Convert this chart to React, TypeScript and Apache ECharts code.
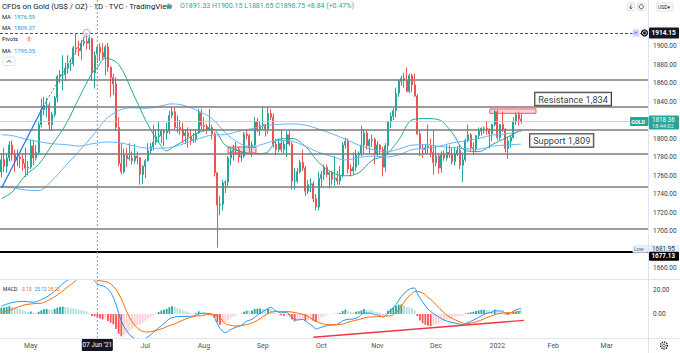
import React, { useEffect, useRef } from "react";
import * as echarts from "echarts";

const START_DATE = "2021-04-16";
const CATEGORY_COUNT = 243;
const FONT = "Roboto, 'Noto Sans', 'DejaVu Sans', sans-serif";

// daily candles: [open, high, low, close]
const ohlcApr2021 = [
  [1764, 1784, 1758, 1777], [1777, 1790, 1764, 1770], [1770, 1783, 1763, 1779], [1779, 1797, 1775, 1793],
  [1793, 1798, 1776, 1783], [1783, 1788, 1764, 1777], [1777, 1788, 1770, 1780], [1780, 1782, 1768, 1778],
  [1778, 1784, 1765, 1773], [1773, 1790, 1758, 1768], [1768, 1776, 1760, 1769],
];
const ohlcMay2021 = [
  [1769, 1799, 1767, 1792], [1792, 1798, 1771, 1779], [1779, 1793, 1776, 1785], [1785, 1818, 1782, 1815],
  [1815, 1843, 1812, 1831], [1831, 1845, 1825, 1836], [1836, 1844, 1823, 1836], [1836, 1839, 1809, 1815],
  [1815, 1829, 1808, 1826], [1826, 1846, 1823, 1844], [1844, 1869, 1839, 1867], [1867, 1874, 1860, 1869],
  [1869, 1890, 1852, 1869], [1869, 1882, 1862, 1876], [1876, 1890, 1870, 1881], [1881, 1886, 1873, 1881],
  [1881, 1900, 1878, 1898], [1898, 1913, 1891, 1897], [1897, 1906, 1889, 1895], [1895, 1906, 1885, 1903],
  [1903, 1909, 1900, 1905],
];
const ohlcJun2021 = [
  [1905, 1914.15, 1896, 1903], [1903, 1911, 1896, 1908], [1908, 1909, 1863, 1871], [1871, 1894, 1854, 1889.91],
  [1891.33, 1900.15, 1881.65, 1898.75], [1898.75, 1903, 1884, 1893], [1893, 1903, 1885, 1888], [1888, 1901, 1868, 1899],
  [1899, 1903, 1872, 1877], [1877, 1878, 1845, 1866], [1866, 1870, 1847, 1859], [1859, 1866, 1808, 1812],
  [1812, 1823, 1770, 1773], [1773, 1795, 1761, 1764], [1764, 1789, 1762, 1782], [1782, 1790, 1769, 1778],
  [1778, 1795, 1776, 1779], [1779, 1786, 1772, 1776], [1776, 1794, 1773, 1781], [1781, 1786, 1772, 1779],
  [1779, 1780, 1750, 1761], [1761, 1771, 1751, 1770],
];
const ohlcJul2021 = [
  [1770, 1778, 1757, 1776], [1776, 1795, 1775, 1787], [1787, 1795, 1783, 1791], [1791, 1815, 1787, 1796],
  [1796, 1809, 1793, 1802], [1802, 1818, 1795, 1803], [1803, 1810, 1795, 1808], [1808, 1809, 1792, 1806],
  [1806, 1817, 1799, 1808], [1808, 1830, 1805, 1825], [1825, 1834, 1822, 1829], [1829, 1833, 1810, 1812],
  [1812, 1825, 1806, 1812], [1812, 1820, 1804, 1810], [1810, 1817, 1795, 1803], [1803, 1810, 1794, 1806],
  [1806, 1812, 1790, 1802], [1802, 1810, 1793, 1798], [1798, 1806, 1795, 1799], [1799, 1810, 1796, 1806],
  [1806, 1832, 1805, 1828], [1828, 1832, 1810, 1814],
];
const ohlcAug2021 = [
  [1814, 1823, 1807, 1813], [1813, 1816, 1805, 1810], [1810, 1832, 1808, 1812], [1812, 1815, 1799, 1805],
  [1805, 1807, 1759, 1763], [1763, 1763, 1681.95, 1728], [1728, 1738, 1717, 1729], [1729, 1755, 1722, 1752],
  [1752, 1755, 1741, 1753], [1753, 1781, 1748, 1779], [1779, 1789, 1771, 1786], [1786, 1793, 1776, 1787],
  [1787, 1796, 1782, 1788], [1788, 1791, 1774, 1780], [1780, 1786, 1775, 1781], [1781, 1807, 1779, 1805],
  [1805, 1809, 1799, 1803], [1803, 1805, 1785, 1790], [1790, 1797, 1780, 1793], [1793, 1823, 1790, 1818],
  [1818, 1822, 1807, 1810], [1810, 1819, 1803, 1814],
];
const ohlcSep2021 = [
  [1814, 1834, 1809, 1815], [1815, 1816, 1802, 1810], [1810, 1834, 1805, 1827], [1827, 1832, 1820, 1823],
  [1823, 1827, 1790, 1794], [1794, 1800, 1782, 1788], [1788, 1800, 1785, 1795], [1795, 1809, 1785, 1788],
  [1788, 1798, 1784, 1794], [1794, 1808, 1780, 1804], [1804, 1808, 1792, 1794], [1794, 1796, 1745, 1754],
  [1754, 1768, 1745, 1754], [1754, 1768, 1752, 1764], [1764, 1777, 1762, 1774], [1774, 1788, 1765, 1768],
  [1768, 1770, 1738, 1743], [1743, 1755, 1740, 1750], [1750, 1757, 1742, 1751], [1751, 1754, 1731, 1735],
  [1735, 1740, 1722, 1726], [1726, 1764, 1722, 1757],
];
const ohlcOct2021 = [
  [1757, 1765, 1748, 1761], [1761, 1772, 1755, 1769], [1769, 1772, 1758, 1761], [1761, 1764, 1746, 1763],
  [1763, 1765, 1750, 1756], [1756, 1781, 1749, 1757], [1757, 1765, 1750, 1754], [1754, 1770, 1750, 1760],
  [1760, 1796, 1758, 1793], [1793, 1801, 1789, 1797], [1797, 1800, 1762, 1767], [1767, 1772, 1759, 1765],
  [1765, 1785, 1761, 1769], [1769, 1788, 1765, 1782], [1782, 1786, 1771, 1784], [1784, 1814, 1781, 1793],
  [1793, 1810, 1784, 1806], [1806, 1809, 1788, 1792], [1792, 1800, 1783, 1798], [1798, 1804, 1791, 1799],
  [1799, 1801, 1772, 1783],
];
const ohlcNov2021 = [
  [1783, 1797, 1780, 1793], [1793, 1794, 1782, 1788], [1788, 1791, 1759, 1769], [1769, 1795, 1764, 1792],
  [1792, 1819, 1782, 1818], [1818, 1828, 1811, 1824], [1824, 1833, 1820, 1830], [1830, 1855, 1823, 1849],
  [1849, 1864, 1845, 1862], [1862, 1868, 1857, 1865], [1865, 1871, 1855, 1863], [1863, 1877, 1850, 1851],
  [1851, 1870, 1849, 1868], [1868, 1870, 1850, 1858], [1858, 1870, 1845, 1846], [1846, 1848, 1804, 1805],
  [1805, 1809, 1781, 1789], [1789, 1794, 1779, 1788], [1788, 1794, 1783, 1790], [1790, 1815, 1784, 1792],
  [1792, 1800, 1780, 1785], [1785, 1809, 1761, 1774],
];
const ohlcDec2021 = [
  [1774, 1792, 1770, 1781], [1781, 1783, 1762, 1768], [1768, 1786, 1763, 1783], [1783, 1787, 1776, 1779],
  [1779, 1793, 1776, 1785], [1785, 1793, 1779, 1783], [1783, 1790, 1772, 1775], [1775, 1791, 1771, 1783],
  [1783, 1792, 1781, 1787], [1787, 1793, 1767, 1771], [1771, 1785, 1753, 1777], [1777, 1800, 1775, 1798],
  [1798, 1815, 1796, 1804], [1804, 1806, 1786, 1790], [1790, 1796, 1782, 1789], [1789, 1804, 1785, 1803],
  [1803, 1812, 1800, 1808], [1808, 1812, 1803, 1811], [1811, 1813, 1805, 1811], [1811, 1819, 1804, 1810],
  [1810, 1811, 1789, 1805], [1805, 1816, 1797, 1815], [1815, 1831, 1813, 1829],
];
const ohlcJan2022 = [
  [1829, 1831, 1798, 1801], [1801, 1816, 1798, 1815], [1815, 1829, 1807, 1810], [1810, 1811, 1785, 1789],
  [1789, 1802, 1778, 1797], [1797, 1804, 1790, 1801], [1801, 1823, 1800, 1818], [1818, 1828, 1815, 1826],
  [1826, 1829, 1814, 1821], [1821, 1827, 1816, 1818.36],
];

// moving averages: [candle index, value]
const ma20 = [
  [0, 1735], [4, 1742], [9, 1760], [14, 1772], [19, 1793.1], [24, 1814.3], [29, 1843.1], [34, 1870.6],
  [36, 1876.59], [39, 1886.9], [44, 1880], [49, 1851.3], [54, 1820.2], [57, 1804.7], [59, 1795.6], [62, 1786.6],
  [64, 1790.1], [69, 1798.3], [74, 1806.6], [79, 1810.3], [84, 1792.8], [89, 1786.6], [94, 1783.6], [99, 1784.2],
  [104, 1799.3], [109, 1800], [114, 1791.6], [119, 1774.2], [124, 1763.3], [129, 1759.7], [134, 1762.9],
  [139, 1776.3], [144, 1782.1], [149, 1798.2], [154, 1820.1], [159, 1821.6], [164, 1820.3], [169, 1806.4],
  [174, 1787], [179, 1785.8], [184, 1793.4], [189, 1800.3], [194, 1807.7], [195, 1808.5],
];
const ma50 = [
  [0, 1749], [4, 1746.9], [9, 1744.3], [14, 1743.8], [19, 1754.6], [24, 1770.2], [29, 1785.8], [34, 1802.2],
  [36, 1809.37], [39, 1820.3], [44, 1830.2], [49, 1833.3], [54, 1832.6], [59, 1834.7], [64, 1837.4], [69, 1835.4],
  [74, 1829.5], [79, 1821.6], [84, 1806.3], [89, 1795.3], [94, 1791], [99, 1794.7], [104, 1797.9], [109, 1797],
  [114, 1791.6], [119, 1785.1], [124, 1780.6], [129, 1776.8], [134, 1779.6], [139, 1781], [144, 1780],
  [149, 1782.3], [154, 1787.9], [159, 1789.6], [164, 1791.5], [169, 1795.2], [174, 1797.4], [179, 1800],
  [184, 1803.7], [189, 1804.8], [194, 1807.5], [195, 1807.8],
];
const ma100 = [
  [0, 1804], [4, 1803.2], [9, 1799.5], [14, 1796.7], [19, 1794.3], [24, 1793.5], [29, 1791.8], [34, 1794.3],
  [36, 1795.05], [39, 1796.2], [44, 1795.5], [49, 1792.6], [54, 1789.7], [59, 1789.5], [64, 1790.6], [69, 1795],
  [74, 1799.8], [79, 1803.7], [84, 1804.2], [89, 1807.8], [94, 1810.6], [99, 1814], [104, 1815.3], [109, 1815.8],
  [114, 1814.5], [119, 1810.2], [124, 1805.1], [129, 1799.2], [134, 1792.9], [139, 1788.1], [144, 1785.5],
  [149, 1788.5], [154, 1792.9], [159, 1793.3], [164, 1791.5], [169, 1790.2], [174, 1789], [179, 1788.4],
  [184, 1791.7], [189, 1792.9], [194, 1793.8], [195, 1793.9],
];

// MACD histogram per candle
const histApr = [5.2, 5.4, 5.9, 6.6, 6.1, 5.4, 4.8, 4.0, 3.2, 2.4, 1.6];
const histMay = [2.0, 1.2, 0.8, 1.8, 3.0, 3.9, 4.3, 3.7, 3.6, 4.2, 5.2, 5.8, 6.2, 5.9, 5.5, 4.9, 4.6, 4.2, 3.6, 3.2, 2.7];
const histJun = [2.0, 1.0, -1.6, -1.9, -3.1, -3.8, -4.6, -4.5, -5.8, -7.2, -8.6, -12.4, -16.5, -18.6, -17.4, -16.0, -14.3, -12.6, -10.9, -9.4, -8.4, -7.0];
const histJul = [-5.6, -4.0, -2.6, -1.2, 0.3, 1.6, 2.8, 3.6, 4.3, 5.6, 6.4, 5.8, 5.0, 4.1, 3.1, 2.3, 1.5, 0.8, 0.4, 0.6, 2.2, 2.0];
const histAug = [1.6, 1.1, 0.8, 0.2, -3.2, -6.8, -8.9, -8.2, -7.4, -5.2, -3.6, -2.2, -1.0, -0.4, 0.2, 1.8, 2.8, 2.6, 2.9, 4.2, 4.4, 4.6];
const histSep = [4.4, 3.9, 4.3, 4.0, 2.0, 0.4, -0.4, -1.2, -1.4, -0.9, -1.3, -4.6, -6.2, -5.8, -4.6, -4.2, -5.8, -5.5, -5.0, -5.6, -6.4, -4.6];
const histOct = [-3.2, -1.8, -1.0, -0.4, -0.2, 0.2, 0.3, 0.8, 2.6, 3.6, 2.4, 1.6, 1.4, 1.9, 2.3, 3.0, 4.1, 3.5, 3.3, 3.0, 1.8];
const histNov = [1.6, 1.0, -0.6, 0.3, 2.8, 4.4, 5.4, 6.8, 7.8, 7.9, 7.3, 6.0, 5.6, 4.5, 2.9, -1.8, -5.4, -7.6, -9.0, -9.8, -10.2, -9.6];
const histDec = [-8.6, -8.0, -6.9, -6.0, -5.0, -4.1, -3.6, -2.8, -2.0, -1.9, -1.4, 0.3, 0.8, 1.4, 1.8, 2.6, 3.0, 3.5, 3.6, 3.5, 3.0, 2.9, 3.6];
const histJan = [2.6, 2.0, 1.6, -0.4, -0.9, -0.5, 1.2, 1.8, 2.1, 1.8];

const macdLine = [
  [0, 6.5], [4, 9.5], [8, 10.5], [12, 9.8], [15, 12], [18, 15.5], [21, 21], [24, 27], [27, 31], [30, 34.5],
  [33, 33], [36, 25.12], [39, 22.5], [41, 18], [43, 8], [45, -6], [47, -14], [49, -19], [51, -21], [53, -21.5],
  [55, -19], [57, -15.5], [59, -11.5], [61, -8], [63, -4], [65, -2.5], [67, -2], [69, -2], [71, -2], [73, -1],
  [75, 0.5], [77, 0.5], [79, -0.3], [81, -8], [82, -12], [84, -15.5], [86, -13], [88, -11], [90, -9.5], [92, -6],
  [94, -4.5], [96, -1], [98, 2], [100, 4.5], [101, 5.5], [103, 2.5], [105, 1], [107, 1.2], [109, -3], [111, -5],
  [113, -4.5], [115, -7.5], [117, -10.5], [118, -12.5], [120, -11], [122, -9.8], [124, -9.2], [126, -8.6],
  [128, -5.8], [130, -4.4], [132, -4.2], [134, -2.4], [136, 0.8], [138, 0.8], [140, -0.6], [142, -1], [143, -2.6],
  [144, -1.4], [146, 2.8], [148, 8], [150, 14.5], [152, 19], [154, 21.5], [155, 21.6], [156, 17], [158, 10],
  [160, 4], [161, 2], [162, 0.5], [164, -2.5], [166, -5], [168, -6.5], [170, -7.5], [172, -8.5], [173, -8.8],
  [174, -8], [176, -6.2], [178, -4], [180, -1.5], [182, 0.5], [184, 1.5], [185, 3], [186, 2.6], [188, 2.4],
  [189, 0.6], [190, 0.2], [191, 0.6], [192, 2.5], [194, 4.2], [195, 4.4],
];
const signalLine = [
  [0, 1.3], [4, 3.8], [8, 7.2], [12, 8.6], [15, 9], [18, 11.8], [21, 15.8], [24, 21], [27, 26.2], [30, 31.3],
  [33, 32], [36, 28.22], [39, 27], [41, 25.2], [43, 20.4], [45, 12.6], [47, 2], [49, -6.4], [51, -11.6], [53, -14.5],
  [55, -15], [57, -14.3], [59, -13.1], [61, -11.6], [63, -9.6], [65, -8.3], [67, -6.1], [69, -4.3], [71, -2.8],
  [73, -1.6], [75, -1.5], [77, -0.6], [79, -0.5], [81, -1.2], [82, -3.1], [84, -8.1], [86, -9.4], [88, -10],
  [90, -9.7], [92, -8.8], [94, -7.4], [96, -5.4], [98, -2.4], [100, 0.2], [101, 1.5], [103, 2.1], [105, 2.2],
  [107, 2.1], [109, 1.6], [111, 0.8], [113, -0.3], [115, -2], [117, -4.9], [118, -6.1], [120, -7.8], [122, -8.8],
  [124, -9], [126, -8.9], [128, -8.4], [130, -6.8], [132, -5.6], [134, -4.7], [136, -3.3], [138, -2.5], [140, -2.4],
  [142, -2], [143, -2], [144, -1.7], [146, -1.6], [148, 1.2], [150, 6.6], [152, 13], [154, 17], [155, 18.7],
  [156, 18.8], [158, 17.6], [160, 13.8], [161, 12.2], [162, 10.1], [164, 5.5], [166, 1], [168, -2.4], [170, -4.7],
  [172, -6.6], [173, -7.4], [174, -8.3], [176, -7.6], [178, -6.6], [180, -5], [182, -3], [184, -1.4], [185, -0.6],
  [186, 0], [188, 0.8], [189, 1], [190, 1.1], [191, 1.1], [192, 1.3], [194, 2.1], [195, 2.6],
];

// drawings
const levelPrices = [1864, 1834, 1809, 1783, 1748, 1702];
const blackLevel = 1677.13;
const crosshairIndex = 36;
const crosshairPrice = 1914.15;
const crosshairDateLabel = "07 Jun '21";
const lowPrice = 1681.95;
const lastPrice = 1818.36;
const countdown = "18:44:02";
const trendUp = [[0.1, 1746.5], [15.6, 1834]];
const trendProjection = [[15.6, 1834], [32, 1914.15]];
const resistanceZone = [[183.2, 1832], [200.5, 1827.2]];
const supportZone = [[85, 1790.8], [95.5, 1784.3]];
const resistanceText = "Resistance 1,834";
const supportText = "Support 1,809";
const resistanceAnchor = [200.2, 1842.7];
const supportAnchor = [198.3, 1797.8];
const macdTrend = [[117, -19.4], [196, -5.3]];
const monthNames = ["Jan", "Feb", "Mar", "Apr", "May", "Jun", "Jul", "Aug", "Sep", "Oct", "Nov", "Dec"];
const hiddenPriceLabels = [1940, 1920, 1820, 1680];

const UP = "#26a69a";
const DOWN = "#ef5350";

function weekdayDates(start: string, n: number): string[] {
  const out: string[] = [];
  const d = new Date(start + "T00:00:00Z");
  while (out.length < n) {
    const wd = d.getUTCDay();
    if (wd !== 0 && wd !== 6) out.push(d.toISOString().slice(0, 10));
    d.setUTCDate(d.getUTCDate() + 1);
  }
  return out;
}

const dates = weekdayDates(START_DATE, CATEGORY_COUNT);
const ohlc = [
  ...ohlcApr2021, ...ohlcMay2021, ...ohlcJun2021, ...ohlcJul2021, ...ohlcAug2021,
  ...ohlcSep2021, ...ohlcOct2021, ...ohlcNov2021, ...ohlcDec2021, ...ohlcJan2022,
];
const hist = [
  ...histApr, ...histMay, ...histJun, ...histJul, ...histAug,
  ...histSep, ...histOct, ...histNov, ...histDec, ...histJan,
];

// month ticks; the one hidden by the crosshair date box is skipped
const tickLabels: Record<number, string> = {};
dates.forEach((d, i) => {
  if (i === 0) return;
  const m = +d.slice(5, 7);
  const pm = +dates[i - 1].slice(5, 7);
  if (m !== pm && Math.abs(i - crosshairIndex) > 6) tickLabels[i] = m === 1 ? d.slice(0, 4) : monthNames[m - 1];
});

function valueAt(arr: number[][], idx: number) {
  const f = arr.find((p) => p[0] === idx);
  return f ? f[1] : NaN;
}

function buildOption(): any {
  const candleData = ohlc.map(([o, h, l, c]) => [o, c, l, h]);
  const histData = hist.map((v, i) => {
    const prev = i > 0 ? hist[i - 1] : v;
    let color: string;
    if (v >= 0) color = v >= prev ? "#26a69a" : "#b2dfdb";
    else color = v <= prev ? "#ff5252" : "#ffcdd2";
    return { value: v, itemStyle: { color } };
  });
  const hidden = { show: false };
  const levelLine = (p: number) => ({
    yAxis: p,
    lineStyle: { color: "#7b7b7b", width: 1.5, type: "solid" },
  });
  return {
    animation: false,
    backgroundColor: "#ffffff",
    grid: [
      { left: 0, right: 32, top: 9, height: 259 },
      { left: 0, right: 32, top: 280, height: 58 },
    ],
    xAxis: [
      {
        type: "category", gridIndex: 0, data: dates, boundaryGap: true,
        axisLine: hidden, axisTick: hidden, axisLabel: hidden, splitLine: hidden,
      },
      {
        type: "category", gridIndex: 1, data: dates, boundaryGap: true,
        axisLine: hidden, axisTick: hidden, splitLine: hidden,
        axisLabel: {
          show: true,
          interval: (i: number) => tickLabels[i] !== undefined,
          formatter: (_v: string, i: number) => tickLabels[i] || "",
          fontSize: 7, color: "#50535e", margin: 4, fontFamily: FONT,
        },
      },
      { type: "value", gridIndex: 0, min: -0.5, max: CATEGORY_COUNT - 0.5, show: false },
      { type: "value", gridIndex: 1, min: -0.5, max: CATEGORY_COUNT - 0.5, show: false },
    ],
    yAxis: [
      {
        type: "value", gridIndex: 0, position: "right", min: 1660, max: 1940, interval: 20,
        axisLine: hidden, axisTick: hidden, splitLine: hidden,
        axisLabel: {
          formatter: (v: number) => (hiddenPriceLabels.includes(v) ? "" : v.toFixed(2)),
          fontSize: 6.5, color: "#363a45", margin: 5, fontFamily: FONT,
        },
      },
      {
        type: "value", gridIndex: 1, position: "right", min: -20, max: 28.33, interval: 20,
        axisLine: hidden, axisTick: hidden, splitLine: hidden,
        axisLabel: {
          formatter: (v: number) => (v === 20 ? "20.00" : v === 0 ? "0.00" : ""),
          fontSize: 6.5, color: "#363a45", margin: 5, fontFamily: FONT,
        },
      },
    ],
    series: [
      {
        type: "candlestick", name: "GOLD", xAxisIndex: 0, yAxisIndex: 0, data: candleData,
        barWidth: 1.5, z: 3,
        itemStyle: { color: UP, color0: DOWN, borderColor: UP, borderColor0: DOWN, borderWidth: 1 },
        markLine: {
          silent: true, symbol: ["none", "none"], label: { show: false }, animation: false,
          data: [
            ...levelPrices.map(levelLine),
            { yAxis: blackLevel, lineStyle: { color: "#000000", width: 2, type: "solid" } },
            { yAxis: lastPrice, lineStyle: { color: "#9ad9d2", width: 0.8, type: "solid" } },
            { yAxis: crosshairPrice, lineStyle: { color: "#50535e", width: 1, type: [3, 2] } },
          ],
        },
      },
      {
        type: "line", name: "MA20", xAxisIndex: 2, yAxisIndex: 0, data: ma20, smooth: 0.35,
        symbol: "none", lineStyle: { color: "#22ab94", width: 1 }, z: 4,
        markArea: {
          silent: true,
          itemStyle: { color: "rgba(242,54,69,0.22)", borderColor: "#f23645", borderWidth: 0.8 },
          data: [
            [{ coord: resistanceZone[0] }, { coord: resistanceZone[1] }],
            [{ coord: supportZone[0] }, { coord: supportZone[1] }],
          ],
        },
      },
      {
        type: "line", name: "MA50", xAxisIndex: 2, yAxisIndex: 0, data: ma50, smooth: 0.35,
        symbol: "none", lineStyle: { color: "#64b5f6", width: 1 }, z: 4,
      },
      {
        type: "line", name: "MA100", xAxisIndex: 2, yAxisIndex: 0, data: ma100, smooth: 0.35,
        symbol: "none", lineStyle: { color: "#64b5f6", width: 1 }, z: 4,
      },
      {
        type: "line", name: "trend", xAxisIndex: 2, yAxisIndex: 0, data: trendUp,
        symbol: "none", lineStyle: { color: "#2979ff", width: 1.3 }, z: 5,
      },
      {
        type: "line", name: "projection", xAxisIndex: 2, yAxisIndex: 0, data: trendProjection,
        symbol: "none", lineStyle: { color: "#6a6d78", width: 1, type: [2, 2] }, z: 5,
      },
      {
        type: "scatter", name: "peak", xAxisIndex: 2, yAxisIndex: 0, data: [trendProjection[1]],
        symbol: "circle", symbolSize: 7, z: 6,
        itemStyle: { color: "rgba(255,255,255,0.7)", borderColor: "#5b9cf6", borderWidth: 1 },
      },
      {
        type: "scatter", name: "labels", xAxisIndex: 2, yAxisIndex: 0, symbolSize: 0, z: 7,
        data: [
          { value: resistanceAnchor, label: { formatter: resistanceText } },
          { value: supportAnchor, label: { formatter: supportText } },
        ],
        label: {
          show: true, position: "right", distance: 0, color: "#000000", fontSize: 9.2,
          fontFamily: FONT, backgroundColor: "#ffffff", borderColor: "#000000", borderWidth: 1,
          padding: [2, 3, 1.5, 3],
        },
      },
      {
        type: "bar", name: "Histogram", xAxisIndex: 1, yAxisIndex: 1, data: histData, barWidth: 1.8,
      },
      {
        type: "line", name: "MACD", xAxisIndex: 3, yAxisIndex: 1, data: macdLine, smooth: 0.35,
        symbol: "none", lineStyle: { color: "#2196f3", width: 1 }, z: 4,
      },
      {
        type: "line", name: "Signal", xAxisIndex: 3, yAxisIndex: 1, data: signalLine, smooth: 0.35,
        symbol: "none", lineStyle: { color: "#ff6d00", width: 1 }, z: 4,
      },
      {
        type: "line", name: "macdTrend", xAxisIndex: 3, yAxisIndex: 1, data: macdTrend,
        symbol: "none", lineStyle: { color: "#f23645", width: 1.4 }, z: 5,
      },
    ],
  };
}

function buildGraphics(chart: echarts.ECharts): any[] {
  const py = (p: number) => chart.convertToPixel({ yAxisIndex: 0 }, p) as number;
  const px = (i: number) => chart.convertToPixel({ xAxisIndex: 2 }, i) as number;
  const t = (text: string, x: number, y: number, size: number, fill: string, extra: any = {}) => ({
    type: "text", z: 100,
    style: { text, x, y, fill, fontSize: size, fontFamily: FONT, verticalAlign: "middle", align: "left", ...extra },
  });
  const box = (x: number, y: number, w: number, h: number, fill: string, extra: any = {}) => ({
    type: "rect", z: 99, shape: { x, y, width: w, height: h, r: 1 }, style: { fill, ...extra },
  });
  const cx = px(crosshairIndex);
  const c = ohlc[crosshairIndex];
  const prevClose = ohlc[crosshairIndex - 1][3];
  const chg = c[3] - prevClose;
  const pct = (chg / prevClose) * 100;
  const yH = py(crosshairPrice);
  const yLast = py(lastPrice);
  const yLow = py(lowPrice) + 1;
  const yBlack = py(blackLevel) + 4;
  const ohlcText =
    `O${c[0].toFixed(2)} H${c[1].toFixed(2)} L${c[2].toFixed(2)} C${c[3].toFixed(2)} ` +
    `${chg >= 0 ? "+" : ""}${chg.toFixed(2)} (${pct >= 0 ? "+" : ""}${pct.toFixed(2)}%)`;
  const macdAt = valueAt(macdLine, crosshairIndex);
  const sigAt = valueAt(signalLine, crosshairIndex);
  const histAt = hist[crosshairIndex];
  const g: any[] = [
    // pane borders
    { type: "line", z: 90, shape: { x1: 0, y1: 279.5, x2: 680, y2: 279.5 }, style: { stroke: "#e0e3eb", lineWidth: 1 } },
    { type: "line", z: 90, shape: { x1: 0, y1: 338.5, x2: 680, y2: 338.5 }, style: { stroke: "#e0e3eb", lineWidth: 1 } },
    { type: "line", z: 90, shape: { x1: 648.5, y1: 0, x2: 648.5, y2: 353 }, style: { stroke: "#e0e3eb", lineWidth: 1 } },
    // crosshair vertical
    { type: "line", z: 95, shape: { x1: cx, y1: 0, x2: cx, y2: 338 }, style: { stroke: "#9598a1", lineWidth: 1, lineDash: [2, 2] } },
    box(cx - 15.5, 339, 31, 12, "#131722"),
    t(crosshairDateLabel, cx, 345, 6.5, "#ffffff", { align: "center" }),
    // header
    t("CFDs on Gold (US$ / OZ) · 1D · TVC · TradingView", 2, 6, 7.8, "#131722"),
    { type: "circle", z: 100, shape: { cx: 169, cy: 6, r: 3.2 }, style: { fill: "rgba(38,166,154,0.25)" } },
    { type: "circle", z: 101, shape: { cx: 169, cy: 6, r: 1.7 }, style: { fill: UP } },
    t(ohlcText, 180, 6, 7.0, UP),
    t("MA", 2, 17, 5.8, "#131722"),
    t(valueAt(ma20, crosshairIndex).toFixed(2), 14, 17, 5.8, "#22ab94"),
    t("MA", 2, 28, 5.8, "#131722"),
    t(valueAt(ma50, crosshairIndex).toFixed(2), 14, 28, 5.8, "#2196f3"),
    t("Pivots", 2, 39, 5.8, "#131722"),
    { type: "circle", z: 100, shape: { cx: 29, cy: 39, r: 3.3 }, style: { fill: "#fde4e4" } },
    t("!", 28.2, 39, 5.5, "#f23645", { fontWeight: "bold" }),
    t("MA", 2, 50.5, 5.8, "#131722"),
    t(valueAt(ma100, crosshairIndex).toFixed(2), 14, 50.5, 5.8, "#2196f3"),
    { type: "rect", z: 100, shape: { x: 3, y: 57, width: 12, height: 8.5, r: 1.5 }, style: { fill: "#ffffff", stroke: "#e0e3eb", lineWidth: 1 } },
    { type: "polyline", z: 101, shape: { points: [[6.8, 62.6], [9, 60.4], [11.2, 62.6]] }, style: { stroke: "#131722", lineWidth: 0.8, fill: "none" } },
    // top right buttons
    { type: "rect", z: 100, shape: { x: 627, y: 3, width: 7.5, height: 7.5, r: 1.5 }, style: { fill: "#ffffff", stroke: "#d1d4dc", lineWidth: 0.7 } },
    { type: "line", z: 101, shape: { x1: 630.75, y1: 4.6, x2: 630.75, y2: 8.8 }, style: { stroke: "#131722", lineWidth: 0.7 } },
    { type: "polyline", z: 101, shape: { points: [[629.3, 7.4], [630.75, 8.9], [632.2, 7.4]] }, style: { stroke: "#131722", lineWidth: 0.7, fill: "none" } },
    { type: "rect", z: 100, shape: { x: 637.5, y: 3, width: 7.5, height: 7.5, r: 1.5 }, style: { fill: "#ffffff", stroke: "#d1d4dc", lineWidth: 0.7 } },
    { type: "circle", z: 101, shape: { cx: 641.25, cy: 6.75, r: 2.1 }, style: { fill: "none", stroke: "#131722", lineWidth: 0.7 } },
    { type: "rect", z: 100, shape: { x: 656.5, y: 3, width: 16.5, height: 8, r: 1.5 }, style: { fill: "#ffffff", stroke: "#d1d4dc", lineWidth: 0.7 } },
    t("USD▾", 658, 7, 5, "#131722"),
    // price axis labels
    box(632.5, yH - 4, 7, 8, "#d6e4fb"),
    t("H", 634, yH, 5, "#2962ff"),
    { type: "circle", z: 100, shape: { cx: 644.5, cy: yH, r: 3.6 }, style: { fill: "#131722" } },
    { type: "circle", z: 101, shape: { cx: 644.5, cy: yH, r: 1.9 }, style: { fill: "none", stroke: "#ffffff", lineWidth: 0.8 } },
    box(649, yH - 5.5, 30, 11, "#131722"),
    t(crosshairPrice.toFixed(2), 651.5, yH, 6.5, "#ffffff", { fontWeight: "bold" }),
    box(630, yLast - 4.5, 18.5, 9, UP),
    t("GOLD", 631.3, yLast, 5.3, "#ffffff", { fontWeight: "bold" }),
    box(649, yLast - 6, 30, 14, UP),
    t(lastPrice.toFixed(2), 652, yLast - 2, 6.3, "#ffffff"),
    t(countdown, 652, yLast + 4.5, 5.6, "#e0f2f1"),
    box(632.5, yLow - 4, 15.5, 8, "#e3effd"),
    t("Low", 634, yLow, 5.3, "#5d606b"),
    box(649, yLow - 4, 30, 8, "#e3effd"),
    t(lowPrice.toFixed(2), 652, yLow, 6.3, "#363a45"),
    box(649, yBlack - 4.5, 30, 9, "#000000"),
    t(blackLevel.toFixed(2), 651.5, yBlack, 6.3, "#ffffff", { fontWeight: "bold" }),
    // MACD legend
    t("MACD", 3, 289, 5.0, "#131722"),
    t(histAt.toFixed(2), 21, 289, 4.8, "#ff5252"),
    t(macdAt.toFixed(2), 34.5, 289, 4.8, "#2196f3"),
    t(sigAt.toFixed(2), 48, 289, 4.8, "#ff6d00"),
    // settings gear
    { type: "circle", z: 100, shape: { cx: 664, cy: 345.5, r: 3.4 }, style: { fill: "none", stroke: "#131722", lineWidth: 1.4, lineDash: [1.3, 0.9] } },
    { type: "circle", z: 101, shape: { cx: 664, cy: 345.5, r: 1.3 }, style: { fill: "none", stroke: "#131722", lineWidth: 0.8 } },
  ];
  return g;
}

export default function App() {
  const ref = useRef<HTMLDivElement>(null);
  useEffect(() => {
    document.body.style.margin = "0";
    const el = ref.current!;
    const chart = echarts.init(el, undefined, { renderer: "svg" });
    chart.setOption(buildOption());
    chart.setOption({ graphic: { elements: buildGraphics(chart) } });
    return () => chart.dispose();
  }, []);
  return <div ref={ref} style={{ width: 680, height: 353, background: "#ffffff" }} />;
}
